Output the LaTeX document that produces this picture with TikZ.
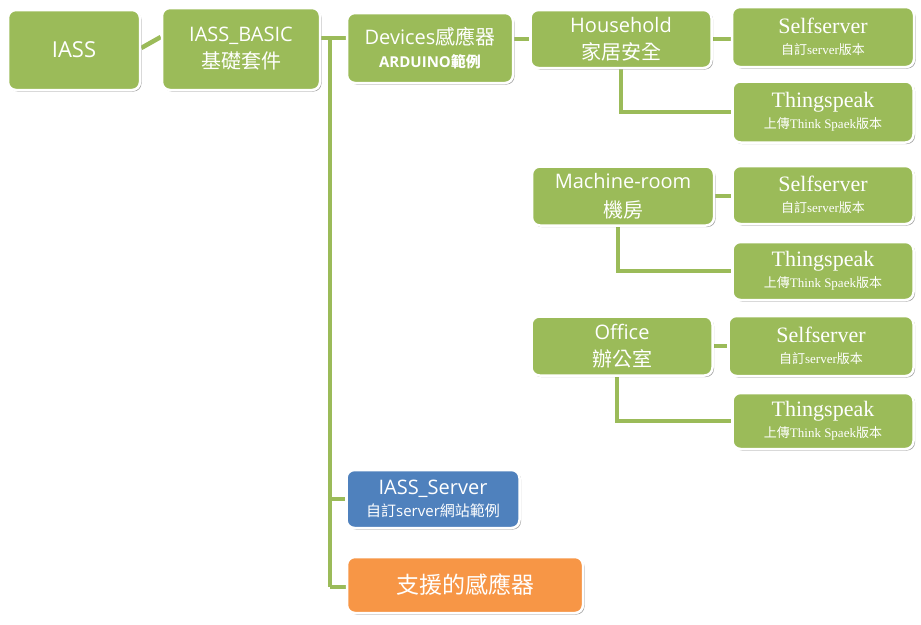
\documentclass[tikz,border=0pt]{standalone}
\usepackage{fontspec}
\setmainfont{Liberation Serif}
\setsansfont{Open Sans}
\newfontfamily\cjk{Noto Sans CJK TC}
\usetikzlibrary{shadows,backgrounds,calc}
\definecolor{gbox}{HTML}{9BBB59}
\definecolor{bbox}{HTML}{4F81BD}
\definecolor{obox}{HTML}{F79646}
\definecolor{gline}{HTML}{9BBB59}
\tikzset{
  box/.style={draw=white, line width=2.5pt, rounded corners=8pt, fill=gbox,
    text=white, align=center, inner sep=0pt,
    drop shadow={shadow xshift=1.5pt, shadow yshift=-1.5pt, opacity=0.35, fill=black}},
  headbox/.style={box, font=\sffamily\fontsize{20}{27}\selectfont},
  leafbox/.style={box, font=\fontsize{22}{21}\selectfont},
  conn/.style={draw=gline, line width=4.5pt},
}
\newcommand\leafsub[1]{{\fontsize{13}{13}\selectfont #1}}
\begin{document}
\begin{tikzpicture}[x=1pt,y=-1pt]
\useasboundingbox (0,0) rectangle (921,624);
% main column
\node[headbox, font=\sffamily\fontsize{22}{27}\selectfont, minimum width=132pt, minimum height=80pt] (iass) at (74,50) {IASS};
\node[headbox, minimum width=158pt, minimum height=82pt] (basic) at (241,49)
  {IASS\_BASIC\\{\cjk 基礎套件}};
\node[box, font=\sffamily\fontsize{20}{23}\selectfont, minimum width=166pt, minimum height=70pt] (dev) at (430,48)
  {Devices{\cjk 感應器}\\{\fontsize{15}{15}\selectfont\bfseries ARDUINO{\cjk 範例}}};
\node[box, fill=bbox, font=\sffamily\fontsize{20}{22}\selectfont, minimum width=173pt, minimum height=58pt] (server) at (433,499)
  {IASS\_Server\\{\fontsize{15}{15}\selectfont{\cjk 自訂}server{\cjk 網站範例}}};
\node[box, fill=obox, font=\cjk\fontsize{23}{27}\selectfont, minimum width=236pt, minimum height=56pt] (sensor) at (465,585)
  {支援的感應器};
% groups
\node[headbox, minimum width=181pt, minimum height=58pt] (house) at (621,39)
  {Household\\{\cjk 家居安全}};
\node[headbox, font=\sffamily\fontsize{20}{29}\selectfont, minimum width=182pt, minimum height=59pt] (mach) at (623,196)
  {Machine-room\\{\cjk 機房}};
\node[headbox, minimum width=181pt, minimum height=59pt] (office) at (622,346)
  {Office\\{\cjk 辦公室}};
% leaves
\node[leafbox, minimum width=182pt, minimum height=60pt] (self1) at (823,37)
  {Selfserver\\\leafsub{{\cjk 自訂}server{\cjk 版本}}};
\node[leafbox, minimum width=181pt, minimum height=61pt] (thing1) at (823,112)
  {Thingspeak\\\leafsub{{\cjk 上傳}Think Spaek{\cjk 版本}}};
\node[leafbox, minimum width=181pt, minimum height=58pt] (self2) at (823,195)
  {Selfserver\\\leafsub{{\cjk 自訂}server{\cjk 版本}}};
\node[leafbox, minimum width=181pt, minimum height=58pt] (thing2) at (823,271)
  {Thingspeak\\\leafsub{{\cjk 上傳}Think Spaek{\cjk 版本}}};
\node[leafbox, minimum width=185pt, minimum height=60pt] (self3) at (821,346)
  {Selfserver\\\leafsub{{\cjk 自訂}server{\cjk 版本}}};
\node[leafbox, minimum width=181pt, minimum height=56pt] (thing3) at (823,421)
  {Thingspeak\\\leafsub{{\cjk 上傳}Think Spaek{\cjk 版本}}};
% trunk coordinates
\coordinate (ttop) at (330,38);
\coordinate (tbot) at (330,587);
\begin{scope}[on background layer]
  \draw[conn] ($(iass.east)+(0,-2)$) -- ($(basic.west)+(0,-12)$);
  \draw[conn] (ttop -| basic.east) -- (ttop -| dev.west);
  \draw[conn] (ttop) -- (tbot);
  \draw[conn] (ttop |- server.west) -- (server.west);
  \draw[conn] (tbot) -- (tbot -| sensor.west);
  \draw[conn] (house.west) -- (house.west -| dev.east);
  \draw[conn] (house.east) -- (house.east -| self1.west);
  \draw[conn] (house.south) |- (thing1.west);
  \draw[conn] (mach.east) -- (mach.east -| self2.west);
  \draw[conn] ($(mach.south)+(-5,0)$) |- (thing2.west);
  \draw[conn] (office.east) -- (office.east -| self3.west);
  \draw[conn] ($(office.south)+(-5,0)$) |- (thing3.west);
\end{scope}
\end{tikzpicture}
\end{document}
